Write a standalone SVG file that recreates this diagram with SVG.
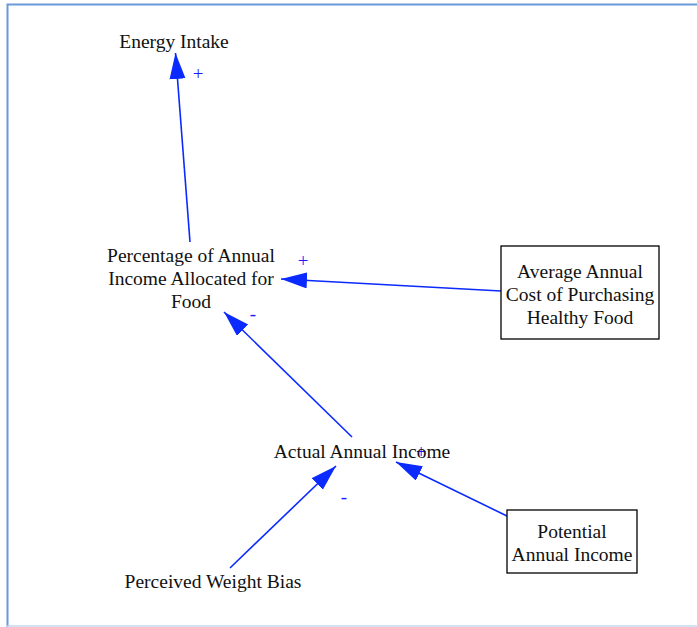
<svg xmlns="http://www.w3.org/2000/svg" width="697" height="627" viewBox="0 0 697 627">
<style>
text{font-family:"Liberation Serif","Times New Roman",serif;font-size:19.5px;fill:#111;text-anchor:middle}
.pol{fill:#1a1aff;font-size:19px}
.edge{stroke:#0a2aff;stroke-width:1.6;fill:none;marker-end:url(#ah)}
.box{fill:#fff;stroke:#000;stroke-width:1.3}
</style>
<defs>
<marker id="ah" markerUnits="userSpaceOnUse" markerWidth="28" markerHeight="18" refX="26" refY="8" orient="auto">
<path d="M0,0 L26,8 L0,16 Z" fill="#0a2aff"/>
</marker>
</defs>
<rect x="0" y="0" width="697" height="627" fill="#fff"/>
<path d="M7.5,627 V4.5 H697" fill="none" stroke="#6a9ad8" stroke-width="2"/>
<path d="M7,626 H697" stroke="#c5d8ee" stroke-width="1.5"/>
<g id="connectors">
<line class="edge" x1="190" y1="242" x2="175.5" y2="53"/>
<line class="edge" x1="501" y1="291" x2="281" y2="279"/>
<line class="edge" x1="352" y1="437" x2="224" y2="312"/>
<line class="edge" x1="230" y1="568" x2="336" y2="466"/>
<line class="edge" x1="507" y1="516" x2="396" y2="462"/>
<text class="pol" x="198" y="80">+</text>
<text class="pol" x="303" y="267">+</text>
<text class="pol" x="253" y="320">-</text>
<text class="pol" x="344" y="503">-</text>
<text class="pol" x="421" y="458">+</text>
</g>
<g id="energy-intake"><text x="174" y="48">Energy Intake</text></g>
<g id="percentage-income-food">
<text x="191" y="262">Percentage of Annual</text>
<text x="191" y="285">Income Allocated for</text>
<text x="191" y="308">Food</text>
</g>
<g id="avg-cost-healthy-food">
<rect class="box" x="501" y="246" width="158" height="93"/>
<text x="580" y="278">Average Annual</text>
<text x="580" y="301">Cost of Purchasing</text>
<text x="580" y="324">Healthy Food</text>
</g>
<g id="actual-annual-income"><text x="362" y="458">Actual Annual Income</text></g>
<g id="potential-annual-income">
<rect class="box" x="507" y="510" width="130" height="63"/>
<text x="572" y="538">Potential</text>
<text x="572" y="561">Annual Income</text>
</g>
<g id="perceived-weight-bias"><text x="213" y="588">Perceived Weight Bias</text></g>
</svg>
